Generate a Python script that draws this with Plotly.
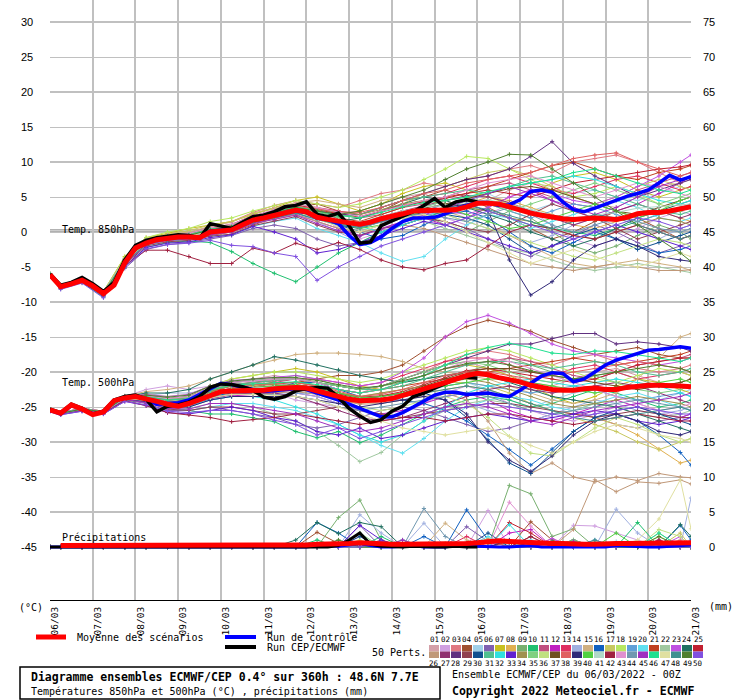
import plotly.graph_objects as go

# ---------------- data ----------------
DATE_LABELS = ["06/03", "07/03", "08/03", "09/03", "10/03", "11/03", "12/03", "13/03",
               "14/03", "15/03", "16/03", "17/03", "18/03", "19/03", "20/03", "21/03"]
DAY_HOURS = [0, 24, 48, 72, 96, 120, 144, 168, 192, 216, 240, 264, 288, 312, 336, 360]
LEFT_TICKS = [-45, -40, -35, -30, -25, -20, -15, -10, -5, 0, 5, 10, 15, 20, 25, 30]
RIGHT_TICKS = [0, 5, 10, 15, 20, 25, 30, 35, 40, 45, 50, 55, 60, 65, 70, 75]

HOURS_6H = [0, 6, 12, 18, 24, 30, 36, 42, 48, 54, 60, 66, 72, 78, 84, 90, 96, 102, 108, 114, 120,
            126, 132, 138, 144, 150, 156, 162, 168, 174, 180, 186, 192, 198, 204, 210, 216, 222,
            228, 234, 240, 246, 252, 258, 264, 270, 276, 282, 288, 294, 300, 306, 312, 318, 324,
            330, 336, 342, 348, 354, 360]
HOURS_CEP = [0, 6, 12, 18, 24, 30, 36, 42, 48, 54, 60, 66, 72, 78, 84, 90, 96, 102, 108, 114, 120,
             126, 132, 138, 144, 150, 156, 162, 168, 174, 180, 186, 192, 198, 204, 210, 216, 222,
             228, 234, 240]
HOURS_PRECIP_MEAN = [6, 12, 18, 24, 30, 36, 42, 48, 54, 60, 66, 72, 78, 84, 90, 96, 102, 108, 114, 120,
                     126, 132, 138, 144, 150, 156, 162, 168, 174, 180, 186, 192, 198, 204, 210, 216, 222,
                     228, 234, 240, 246, 252, 258, 264, 270, 276, 282, 288, 294, 300, 306, 312, 318, 324,
                     330, 336, 342, 348, 354, 360]
PERT_HOURS = [0, 6, 18, 30, 42, 54, 66, 78, 90, 102, 114, 126, 138, 150, 162, 174, 186, 198, 210, 222,
              234, 246, 258, 270, 282, 294, 306, 318, 330, 342, 354, 360]

T850_MEAN = [-6.1, -7.8, -7.4, -6.9, -7.7, -8.8, -7.6, -4.4, -2.3, -1.6, -1.1, -0.9, -0.7, -0.7, -0.8,
             0.0, 0.2, 0.3, 1.0, 1.7, 2.0, 2.4, 2.8, 3.1, 2.9, 2.1, 1.8, 1.5, 1.3, 1.1, 1.4, 1.9, 2.2,
             2.6, 3.0, 3.1, 3.1, 3.1, 3.2, 3.6, 4.1, 4.1, 4.0, 3.6, 3.1, 2.7, 2.4, 2.1, 1.9, 1.8, 1.9,
             2.0, 1.9, 1.8, 2.1, 2.6, 2.8, 2.8, 3.0, 3.3, 3.6]
T850_CTRL = [-6.2, -7.8, -7.3, -6.8, -7.6, -8.7, -7.4, -4.3, -2.2, -1.5, -1.0, -0.8, -0.6, -0.7, -0.8,
             0.1, 0.3, 0.4, 1.1, 1.8, 2.1, 2.5, 2.8, 3.0, 2.8, 2.0, 1.8, 1.2, -0.5, -1.8, -1.5, -0.7,
             0.5, 1.5, 2.0, 2.0, 2.1, 2.6, 3.3, 3.8, 4.2, 4.2, 3.8, 3.9, 4.6, 5.8, 6.0, 5.7, 4.3, 3.2,
             2.9, 3.4, 4.0, 4.6, 5.1, 5.5, 6.0, 7.0, 8.1, 7.4, 7.9]
T850_CEP = [-6.0, -7.6, -7.2, -6.5, -7.4, -8.5, -7.2, -4.0, -1.9, -1.2, -0.8, -0.6, -0.4, -0.5, -0.9,
            1.2, 0.8, 0.5, 1.4, 2.2, 2.4, 2.9, 3.6, 3.8, 4.3, 2.5, 2.2, 2.7, 0.9, -1.6, -1.4, 0.9,
            1.6, 2.2, 2.9, 3.8, 4.8, 3.5, 4.3, 4.6, 4.3]

T500_MEAN = [-25.4, -25.9, -24.7, -25.3, -26.1, -25.7, -24.1, -23.7, -23.5, -23.8, -24.2, -24.6, -24.9,
             -24.5, -23.9, -23.3, -22.8, -22.7, -22.7, -22.6, -22.6, -22.4, -22.3, -22.2, -22.3, -22.7,
             -23.1, -23.5, -23.9, -24.1, -24.1, -24.0, -23.8, -23.4, -22.9, -22.4, -22.0, -21.5, -21.0,
             -20.5, -20.2, -20.4, -20.8, -21.1, -21.4, -21.9, -22.2, -22.5, -22.6, -22.6, -22.4, -22.3,
             -22.5, -22.5, -22.2, -22.0, -21.9, -21.9, -21.9, -22.0, -22.1]
T500_CTRL = [-25.5, -26.0, -24.8, -25.3, -26.1, -25.7, -24.1, -23.6, -23.4, -23.8, -24.6, -24.5, -24.4,
             -24.0, -23.2, -22.3, -21.6, -21.8, -22.2, -22.5, -22.8, -22.7, -22.5, -22.4, -22.5, -23.0,
             -23.4, -24.0, -24.6, -25.2, -25.9, -26.4, -26.4, -25.8, -25.0, -24.2, -23.3, -22.9, -22.9,
             -23.2, -23.1, -23.0, -23.3, -23.5, -22.6, -21.6, -20.6, -20.1, -20.2, -21.4, -21.0, -20.0,
             -19.0, -18.3, -17.8, -17.4, -16.9, -16.8, -16.6, -16.4, -16.6]
T500_CEP = [-25.3, -25.8, -24.6, -25.2, -26.0, -25.6, -24.0, -23.5, -23.3, -23.9, -25.7, -24.9, -24.7,
            -24.3, -23.5, -22.2, -21.7, -21.8, -22.1, -22.6, -23.6, -23.9, -23.5, -22.7, -22.4, -22.2,
            -22.3, -23.6, -25.2, -26.3, -27.2, -26.8, -25.6, -24.9, -23.5, -23.0, -22.3, -21.6, -21.0,
            -20.7, -20.9]

PRECIP_MEAN = [0.2, 0.2, 0.2, 0.2, 0.2, 0.2, 0.2, 0.2, 0.2, 0.2, 0.2, 0.2, 0.2, 0.2, 0.2, 0.2, 0.2, 0.2,
               0.2, 0.2, 0.2, 0.2, 0.3, 0.3, 0.4, 0.4, 0.4, 0.5, 0.6, 0.5, 0.4, 0.4, 0.4, 0.4, 0.4, 0.5,
               0.5, 0.5, 0.5, 0.6, 0.7, 0.9, 0.8, 0.7, 0.6, 0.5, 0.5, 0.5, 0.4, 0.4, 0.4, 0.5, 0.5, 0.5,
               0.5, 0.5, 0.6, 0.6, 0.6, 0.6]
PRECIP_CTRL = [0, 0, 0, 0, 0, 0, 0, 0, 0, 0, 0, 0, 0, 0, 0, 0, 0, 0, 0, 0, 0, 0, 0, 0, 0,
               0.2, 0.3, 0.1, 0.3, 0.5, 0.2,
               0, 0, 0.1, 0.2, 0, 0, 0, 0.2, 0.3, 0.1, 0, 0, 0, 0.1, 0.2, 0, 0, 0, 0.1, 0, 0, 0, 0.2,
               0.1, 0, 0, 0, 0.1, 0.2, 0.3]
PRECIP_CEP = [0, 0, 0, 0, 0, 0, 0, 0, 0, 0, 0, 0, 0, 0, 0, 0, 0, 0, 0, 0, 0, 0, 0, 0, 0, 0, 0,
              0.2, 1.0, 2.0, 0.4, 0.1, 0, 0, 0.1, 0, 0, 0, 0.1, 0, 0]

MEMBER_LABELS = ["01", "02", "03", "04", "05", "06", "07", "08", "09", "10", "11", "12", "13",
                 "14", "15", "16", "17", "18", "19", "20", "21", "22", "23", "24", "25", "26",
                 "27", "28", "29", "30", "31", "32", "33", "34", "35", "36", "37", "38", "39",
                 "40", "41", "42", "43", "44", "45", "46", "47", "48", "49", "50"]
MEMBER_COLORS = ["#d4a0a8", "#d0a0e0", "#e07880", "#a05030", "#a0d0e8", "#8060b0", "#c8c020", "#e0b050",
                 "#78b070", "#20c070", "#c05080", "#c020c0", "#e03060", "#a0b0e0", "#d0b080", "#1060c0",
                 "#c8c860", "#b8e860", "#60a0d8", "#60e0f0", "#c04020", "#a0c8a0", "#c050e0", "#207060",
                 "#c02030", "#c09878", "#903070", "#603080", "#904050", "#105090", "#50c090", "#30e0e0",
                 "#6020d0", "#a09050", "#80d080", "#c0e080", "#705020", "#e06060", "#302878", "#50d040",
                 "#b0d8c8", "#a02040", "#e090d0", "#7098b0", "#a030c0", "#20e090", "#e0e0a0", "#409090",
                 "#508030", "#8050e0"]

T850_MEMBERS = [
    [-6.2, -7.9, -6.8, -8.9, -4.0, -1.2, -0.5, -0.3, 0.5, 1.0, 2.5, 3.5, 4.0, 3.0, 2.5, 3.0, 4.0, 5.0, 5.5, 4.0, 3.0, 4.5, 6.0, 7.0, 6.5, 5.0, 4.0, 3.5, 5.0, 6.5, 7.0, 7.5],
    [-6.0, -7.7, -6.9, -8.7, -4.5, -1.8, -1.0, -0.5, 0.2, 0.8, 1.5, 2.8, 3.5, 2.5, 0.5, -1.0, 0.0, 1.5, 3.0, 2.0, 1.0, 2.5, 4.0, 3.0, 1.0, -1.0, -2.0, -1.0, 0.5, 2.0, 3.0, 2.5],
    [-6.1, -7.8, -6.7, -8.6, -3.8, -1.0, -0.4, -0.2, 0.8, 1.5, 2.8, 3.8, 4.5, 4.0, 3.5, 4.5, 5.5, 6.0, 7.0, 6.5, 7.5, 8.0, 9.0, 9.5, 8.5, 10.0, 10.5, 11.0, 10.0, 8.5, 7.0, 8.0],
    [-6.2, -7.8, -7.0, -8.9, -4.6, -1.7, -1.2, -1.0, -0.5, 0.0, 1.0, 2.0, 3.5, 4.0, 3.0, 2.0, 3.0, 4.5, 5.0, 6.0, 5.0, 3.5, 2.0, 0.5, -1.0, 0.0, 1.5, 3.0, 2.0, 0.5, -1.0, -0.5],
    [-6.1, -7.7, -6.9, -8.8, -4.3, -1.5, -0.8, -0.6, 0.1, 0.5, 1.8, 2.5, 3.0, 2.0, 1.0, 0.5, 1.5, 2.5, 3.5, 4.5, 5.0, 5.5, 4.0, 3.0, 4.0, 5.5, 6.0, 5.0, 4.5, 5.5, 6.5, 6.0],
    [-6.3, -8.0, -7.1, -9.2, -5.2, -2.5, -1.8, -1.5, -1.0, -0.5, 0.5, 1.0, 0.5, -1.0, -2.0, -1.5, 0.0, 1.0, 2.0, 1.5, 0.5, -1.0, -2.5, -3.5, -2.0, -0.5, 1.0, 0.0, -1.5, -3.0, -2.0, -1.5],
    [-6.0, -7.6, -6.6, -8.5, -3.5, -0.8, -0.2, 0.5, 1.0, 1.5, 2.5, 3.5, 4.5, 5.0, 4.0, 3.0, 4.0, 5.5, 6.5, 7.0, 6.0, 5.0, 4.0, 5.5, 7.0, 8.0, 8.5, 7.5, 6.0, 5.0, 6.0, 6.5],
    [-6.2, -7.9, -7.0, -8.9, -4.4, -1.6, -1.0, -0.8, -0.2, 0.2, 1.5, 2.2, 2.8, 2.0, 1.5, 1.0, 2.0, 3.0, 3.5, 3.0, 4.0, 5.0, 4.5, 3.5, 2.5, 1.0, 0.5, 1.5, 2.5, 3.0, 2.0, 1.5],
    [-6.1, -7.8, -6.9, -8.7, -4.2, -1.4, -0.8, -0.5, 0.3, 0.6, 1.8, 2.6, 3.4, 2.5, 1.0, 0.0, 1.0, 2.0, 2.5, 1.0, 0.0, 1.5, 3.0, 2.0, 0.0, -2.0, -3.0, -2.0, -0.5, 1.0, 0.0, -1.0],
    [-6.3, -8.1, -7.2, -9.3, -5.0, -2.2, -1.5, -1.3, -1.5, -2.8, -4.5, -5.9, -7.1, -5.0, -3.0, -1.5, 0.0, 1.0, 2.0, 3.0, 3.5, 3.0, 2.0, 1.0, 0.5, 0.0, -0.5, 0.5, 1.5, 2.5, 3.0, 3.5],
    [-6.0, -7.7, -6.8, -8.7, -4.1, -1.3, -0.6, -0.4, 0.4, 0.9, 2.0, 2.8, 3.8, 3.0, 2.5, 2.0, 2.5, 3.5, 4.0, 5.0, 6.0, 6.5, 7.0, 6.0, 5.0, 4.0, 3.5, 4.5, 6.0, 7.0, 8.0, 8.5],
    [-6.1, -7.8, -6.9, -8.8, -4.4, -1.6, -1.0, -0.9, -0.3, 0.0, 1.2, 2.0, 2.5, 1.5, 0.5, -0.5, 0.5, 1.5, 2.0, 1.0, 2.0, 3.5, 5.0, 6.0, 4.5, 3.0, 2.0, 3.0, 4.0, 5.5, 7.0, 8.0],
    [-6.2, -7.9, -6.9, -8.8, -4.3, -1.4, -0.7, -0.5, 0.4, 0.8, 2.0, 3.0, 3.8, 3.5, 3.0, 2.5, 3.5, 4.5, 5.0, 5.5, 6.5, 7.5, 8.0, 7.0, 6.0, 5.5, 6.5, 7.5, 8.0, 7.0, 6.0, 6.5],
    [-6.0, -7.7, -6.9, -8.7, -4.2, -1.5, -0.9, -0.6, 0.0, 0.4, 1.6, 2.3, 2.8, 1.5, 0.0, -1.5, -0.5, 1.0, 2.0, 2.5, 1.5, 0.5, -0.5, -1.5, -0.5, 1.0, 2.0, 1.0, 0.0, -1.0, 0.5, 1.0],
    [-6.1, -7.8, -6.8, -8.6, -3.9, -1.1, -0.4, 0.0, 0.8, 1.4, 2.7, 3.5, 4.2, 4.5, 4.0, 3.5, 4.5, 5.0, 4.0, 3.0, 2.0, 1.0, -0.5, -2.0, -3.5, -4.5, -5.0, -4.5, -4.0, -4.5, -5.0, -5.5],
    [-6.2, -7.9, -7.0, -8.9, -4.5, -1.7, -1.1, -0.8, -0.2, 0.2, 1.3, 2.0, 2.7, 1.8, 1.0, 0.0, -1.0, -0.5, 1.0, 2.5, 3.0, 2.0, 0.0, -2.0, -3.0, -1.5, 0.0, -1.0, -2.0, -3.0, -2.5, -2.0],
    [-6.0, -7.6, -6.7, -8.6, -3.9, -1.0, -0.3, 0.2, 1.0, 1.5, 2.6, 3.3, 4.0, 3.5, 2.5, 2.0, 3.0, 4.0, 5.5, 6.5, 7.5, 8.5, 9.0, 8.0, 6.5, 5.0, 4.0, 5.0, 6.5, 7.5, 6.5, 6.0],
    [-6.0, -7.6, -6.6, -8.5, -3.6, -0.8, 0.0, 0.5, 1.5, 2.0, 3.0, 3.8, 4.5, 4.0, 3.5, 4.0, 5.0, 6.0, 7.5, 9.0, 10.8, 10.5, 9.0, 7.5, 6.0, 5.0, 5.5, 6.5, 5.5, 4.0, 3.0, 3.5],
    [-6.1, -7.8, -6.9, -8.8, -4.4, -1.6, -0.9, -0.7, 0.0, 0.3, 1.7, 2.5, 3.2, 2.3, 1.5, 1.0, 2.0, 2.5, 3.0, 4.0, 4.5, 4.0, 3.0, 2.0, 3.0, 4.0, 3.5, 2.5, 1.5, 2.5, 3.5, 4.0],
    [-6.2, -7.9, -7.0, -8.9, -4.6, -1.9, -1.3, -1.1, -0.6, -0.4, 0.8, 1.5, 2.0, 0.5, -0.5, -1.5, -3.0, -4.2, -3.5, -1.0, 1.0, 2.5, 2.0, 0.5, 1.5, 2.5, 3.5, 4.5, 3.5, 2.0, 1.5, 2.0],
    [-6.1, -7.8, -6.8, -8.7, -4.1, -1.3, -0.7, -0.4, 0.5, 0.9, 2.1, 2.9, 3.6, 3.0, 2.0, 1.5, 2.5, 3.5, 4.5, 5.0, 5.5, 6.5, 7.5, 8.5, 9.5, 10.0, 9.0, 8.0, 7.5, 8.5, 9.0, 9.5],
    [-6.0, -7.7, -6.9, -8.7, -4.3, -1.5, -0.8, -0.6, 0.2, 0.5, 1.8, 2.5, 3.0, 2.0, 1.0, 0.5, 1.5, 2.0, 1.5, 0.5, -0.5, -1.5, -2.5, -3.0, -4.0, -5.0, -5.5, -5.0, -4.5, -5.0, -5.5, -5.8],
    [-6.2, -7.9, -7.0, -8.9, -4.5, -1.7, -1.0, -0.8, -0.1, 0.2, 1.5, 2.2, 2.9, 2.0, 1.5, 1.0, 2.0, 3.0, 3.5, 3.0, 2.5, 3.5, 5.0, 6.0, 5.5, 4.5, 4.0, 5.0, 6.5, 8.0, 10.0, 11.0],
    [-6.1, -7.8, -6.9, -8.8, -4.2, -1.4, -0.8, -0.5, 0.3, 0.7, 2.0, 3.0, 3.5, 2.5, 1.5, 2.0, 3.0, 4.0, 5.0, 4.5, 3.5, 2.5, 1.5, 0.0, -1.0, -2.0, -1.0, 0.5, 2.0, 3.0, 4.0, 4.5],
    [-6.0, -7.7, -6.8, -8.7, -4.0, -1.2, -0.5, -0.3, 0.6, 1.1, 2.3, 3.1, 3.9, 3.2, 2.6, 2.2, 3.0, 3.8, 4.3, 4.8, 5.5, 6.0, 5.5, 5.0, 6.0, 7.0, 7.5, 8.0, 8.5, 9.0, 9.3, 9.6],
    [-6.2, -7.9, -7.0, -8.9, -4.6, -1.8, -1.2, -1.0, -0.4, 0.0, 1.2, 1.9, 2.5, 1.5, 0.5, 0.0, 0.5, 1.0, 0.5, -0.5, -1.5, -2.5, -3.5, -4.5, -5.0, -5.5, -5.0, -4.5, -5.0, -5.5, -5.5, -5.4],
    [-6.1, -7.8, -6.9, -8.8, -4.3, -1.5, -0.9, -0.7, 0.0, 0.4, 1.7, 2.4, 3.2, 2.6, 2.0, 1.2, 2.2, 3.0, 3.8, 4.5, 5.2, 5.0, 4.2, 3.0, 2.0, 1.0, 2.0, 3.0, 4.0, 3.0, 2.0, 2.5],
    [-6.0, -7.7, -6.8, -8.7, -4.0, -1.2, -0.6, -0.3, 0.5, 1.0, 2.2, 3.0, 3.7, 3.0, 2.5, 2.5, 3.5, 4.5, 5.5, 6.5, 7.5, 8.0, 9.0, 10.8, 12.9, 9.8, 8.0, 6.5, 5.0, 6.0, 7.0, 7.5],
    [-6.2, -7.9, -7.1, -9.0, -4.7, -2.0, -1.4, -1.2, -0.6, -0.3, 0.9, 1.6, 2.2, 1.0, 0.0, -0.5, 0.5, 1.0, 2.0, 1.5, 0.5, 0.0, 1.0, 2.5, 4.0, 3.0, 2.0, 0.5, -1.0, 0.0, 1.0, 1.5],
    [-6.1, -7.8, -6.9, -8.8, -4.4, -1.6, -1.0, -0.8, -0.1, 0.3, 1.6, 2.3, 3.0, 2.0, 1.0, 0.5, 1.5, 2.5, 3.0, 2.5, 2.0, 1.0, -1.0, -3.0, -2.0, -0.5, 0.5, -1.0, -2.5, -1.5, -0.5, 0.0],
    [-6.0, -7.7, -6.8, -8.7, -4.2, -1.4, -0.7, -0.4, 0.4, 0.8, 2.0, 2.8, 3.5, 2.8, 2.2, 2.5, 3.5, 4.5, 5.0, 5.5, 6.0, 5.5, 6.5, 7.5, 8.0, 7.0, 6.0, 5.0, 4.0, 3.0, 2.5, 3.0],
    [-6.1, -7.8, -6.9, -8.8, -4.3, -1.5, -0.8, -0.6, 0.2, 0.6, 1.8, 2.6, 3.3, 2.4, 1.6, 0.8, 0.0, 1.0, 2.0, 3.5, 4.5, 5.5, 6.5, 7.0, 7.5, 8.0, 7.5, 6.5, 5.5, 4.5, 4.0, 4.5],
    [-6.2, -8.0, -7.1, -9.1, -4.9, -2.2, -1.6, -1.4, -0.8, -0.4, 0.8, 0.0, -1.0, -3.0, -2.5, -1.5, -0.5, 0.5, 1.5, 1.0, 0.0, -1.0, -2.0, -3.0, -2.0, -1.0, 0.0, 1.0, 0.0, -1.0, -2.0, -2.5],
    [-6.1, -7.8, -6.9, -8.7, -4.1, -1.3, -0.6, -0.3, 0.5, 0.9, 2.1, 2.9, 3.6, 3.2, 2.8, 2.5, 3.2, 4.0, 4.5, 4.0, 3.5, 3.0, 2.0, 1.5, 0.5, -0.5, -1.0, 0.0, 1.0, 2.0, 1.5, 1.0],
    [-6.0, -7.7, -6.8, -8.6, -3.9, -1.1, -0.5, -0.2, 0.6, 1.0, 2.2, 3.0, 3.8, 3.0, 2.0, 1.0, 1.5, 2.5, 3.5, 4.5, 5.0, 4.0, 3.0, 4.0, 5.0, 6.0, 7.0, 6.0, 5.0, 4.0, 5.0, 5.5],
    [-6.1, -7.8, -6.9, -8.8, -4.3, -1.5, -0.8, -0.6, 0.1, 0.5, 1.7, 2.5, 3.1, 2.2, 1.6, 1.2, 2.0, 2.8, 3.2, 2.5, 1.5, 0.5, -0.5, -1.5, -2.5, -3.5, -4.0, -3.0, -2.0, -1.0, -1.5, -2.0],
    [-6.2, -7.9, -7.0, -8.9, -4.5, -1.7, -1.1, -0.9, -0.2, 0.1, 1.4, 2.1, 2.8, 2.0, 1.4, 1.0, 1.8, 2.6, 3.4, 4.0, 4.8, 5.5, 6.2, 6.5, 6.0, 5.0, 4.0, 3.0, 2.5, 3.5, 4.5, 5.0],
    [-6.0, -7.7, -6.8, -8.7, -4.1, -1.3, -0.6, -0.4, 0.5, 0.9, 2.1, 2.9, 3.7, 3.3, 2.9, 2.8, 3.5, 4.5, 5.5, 6.0, 7.0, 7.5, 8.0, 8.5, 9.5, 10.5, 11.0, 11.3, 10.0, 9.0, 8.0, 8.5],
    [-6.1, -7.8, -6.9, -8.8, -4.4, -1.6, -1.0, -0.7, 0.0, 0.3, 1.6, 2.4, 3.0, 2.2, 1.4, 0.8, 1.5, 2.2, 2.8, 3.5, 4.0, 3.0, -4.0, -9.0, -7.1, -4.0, -2.0, -1.0, -2.0, -3.5, -4.0, -4.2],
    [-6.2, -7.9, -7.0, -8.9, -4.5, -1.7, -1.1, -0.8, -0.1, 0.2, 1.5, 2.2, 2.9, 2.0, 1.2, 0.5, 1.0, 2.0, 3.0, 3.5, 2.5, 1.5, 0.5, 1.0, 2.0, 3.0, 4.0, 3.0, 2.0, 3.0, 4.5, 5.0],
    [-6.1, -7.8, -6.9, -8.8, -4.3, -1.5, -0.9, -0.6, 0.1, 0.4, 1.7, 2.4, 3.1, 2.3, 1.7, 1.4, 2.2, 3.0, 3.6, 3.8, 4.2, 4.6, 4.0, 3.2, 2.4, 2.0, 2.4, 2.8, 3.4, 3.6, 3.8, 4.0],
    [-6.3, -8.0, -7.2, -9.1, -4.8, -2.6, -2.6, -3.5, -4.5, -4.5, -2.3, -3.0, -1.6, -2.5, -1.5, -2.5, -4.0, -5.0, -5.4, -4.5, -4.0, -2.0, 0.0, 1.0, 0.5, -0.5, -1.0, 0.0, 1.0, 0.0, -1.0, -0.5],
    [-6.0, -7.7, -6.8, -8.6, -3.9, -1.2, -0.5, -0.2, 0.6, 1.1, 2.3, 3.2, 4.0, 3.5, 2.8, 2.2, 3.0, 3.8, 4.5, 5.0, 6.0, 7.0, 7.5, 8.0, 7.0, 6.0, 5.0, 6.0, 7.0, 6.5, 5.5, 5.0],
    [-6.1, -7.8, -6.9, -8.8, -4.4, -1.6, -1.0, -0.7, 0.0, 0.3, 1.6, 2.3, 3.0, 2.0, 1.2, 0.6, 1.4, 2.2, 2.6, 2.0, 1.5, 2.5, 3.5, 2.5, 1.0, 0.0, 1.0, 2.0, 1.5, 0.5, 0.0, 0.5],
    [-6.2, -7.9, -7.0, -8.9, -4.6, -1.8, -1.2, -1.0, -0.4, 0.0, 1.2, 1.8, 2.4, 1.2, 0.2, -0.6, 0.4, 1.5, 2.5, 3.5, 4.5, 5.5, 6.5, 5.5, 4.5, 3.5, 2.5, 3.5, 5.0, 6.5, 7.5, 8.0],
    [-6.0, -7.7, -6.8, -8.7, -4.1, -1.3, -0.6, -0.4, 0.4, 0.8, 2.0, 2.8, 3.6, 3.0, 2.4, 2.0, 2.8, 3.6, 4.2, 4.5, 5.0, 5.8, 6.5, 7.0, 7.5, 8.5, 9.0, 8.0, 7.0, 6.0, 5.5, 6.0],
    [-6.1, -7.8, -6.9, -8.8, -4.4, -1.6, -0.9, -0.6, 0.1, 0.4, 1.6, 2.3, 2.9, 1.8, 0.8, 0.0, 1.0, 2.0, 2.5, 1.5, 0.0, -1.5, -3.0, -4.5, -3.5, -2.5, -3.5, -4.5, -5.0, -4.0, -3.0, -3.5],
    [-6.2, -7.9, -7.0, -8.9, -4.5, -1.7, -1.1, -0.9, -0.2, 0.2, 1.4, 2.1, 2.7, 1.8, 1.1, 0.7, 1.6, 2.4, 3.0, 3.4, 3.8, 3.2, 2.4, 1.5, 0.5, 1.5, 2.5, 2.0, 1.0, 0.0, -1.0, -0.5],
    [-6.1, -7.8, -6.9, -8.8, -4.2, -1.4, -0.7, -0.5, 0.3, 0.7, 1.9, 2.7, 3.5, 3.0, 2.5, 3.0, 4.0, 5.0, 6.0, 7.5, 9.0, 10.0, 11.1, 11.0, 9.0, 7.0, 5.0, 3.0, 1.0, -1.0, -3.0, -4.2],
    [-6.4, -8.2, -7.3, -9.4, -5.0, -2.4, -1.8, -1.6, -1.2, -1.9, -2.1, -3.0, -3.5, -6.9, -5.0, -3.5, -2.0, -1.0, 0.0, 1.0, 2.0, 3.0, 2.0, 1.0, 0.0, -1.0, 0.0, 1.0, 2.0, 1.5, 0.5, 1.0],
]

T500_MEMBERS = [
    [-25.5, -26.0, -25.2, -25.8, -23.6, -23.5, -24.0, -23.8, -22.5, -21.5, -21.0, -20.5, -21.0, -22.0, -22.5, -23.0, -22.0, -21.0, -20.0, -19.0, -18.5, -19.5, -20.5, -21.5, -22.0, -21.0, -20.0, -19.5, -20.5, -21.5, -22.0, -22.5],
    [-25.3, -25.8, -25.2, -25.6, -23.5, -22.5, -22.0, -22.5, -22.0, -21.5, -22.0, -23.0, -24.0, -24.5, -25.0, -26.0, -27.0, -26.0, -24.5, -23.0, -22.0, -23.0, -24.5, -25.5, -26.5, -27.0, -26.0, -25.0, -24.5, -25.5, -26.5, -27.0],
    [-25.4, -25.9, -25.3, -25.7, -23.5, -23.2, -23.8, -23.6, -22.6, -21.8, -21.5, -21.3, -21.0, -21.5, -22.0, -22.5, -22.0, -21.0, -20.0, -18.5, -17.5, -17.0, -17.5, -18.5, -19.0, -18.0, -17.5, -18.5, -19.5, -20.0, -19.5, -19.0],
    [-25.4, -25.9, -25.3, -25.7, -23.7, -23.8, -24.4, -24.2, -23.0, -22.3, -22.0, -21.8, -21.5, -21.0, -20.5, -20.5, -20.0, -19.0, -17.0, -15.0, -13.5, -12.6, -13.3, -14.2, -15.5, -16.5, -17.5, -17.0, -16.5, -17.5, -18.0, -18.0],
    [-25.4, -25.9, -25.3, -25.7, -23.8, -24.0, -24.8, -24.6, -23.4, -22.8, -22.5, -22.0, -21.5, -22.0, -23.0, -24.0, -24.5, -24.0, -23.0, -22.0, -21.5, -22.5, -24.0, -25.0, -24.0, -23.0, -22.5, -23.5, -24.5, -24.0, -23.0, -22.5],
    [-25.5, -26.0, -25.5, -25.9, -24.0, -24.5, -25.5, -25.5, -25.0, -25.5, -26.0, -26.5, -27.5, -28.0, -27.5, -26.5, -25.5, -25.0, -25.5, -26.5, -27.5, -28.5, -28.0, -27.0, -26.0, -25.5, -26.5, -27.5, -28.0, -27.0, -26.5, -26.0],
    [-25.3, -25.8, -25.2, -25.6, -23.5, -23.3, -23.8, -23.5, -22.0, -21.0, -20.5, -20.0, -19.5, -20.0, -21.0, -22.0, -22.5, -21.5, -20.5, -19.5, -19.0, -19.5, -20.5, -22.0, -23.5, -24.5, -23.5, -22.0, -21.0, -21.5, -22.5, -23.0],
    [-25.4, -25.9, -25.3, -25.7, -23.7, -23.9, -24.7, -24.6, -23.5, -23.0, -23.0, -23.0, -22.5, -23.0, -24.0, -24.5, -24.0, -23.5, -23.0, -22.5, -22.0, -22.5, -23.5, -24.5, -25.5, -26.0, -26.5, -27.5, -29.0, -31.0, -33.0, -32.6],
    [-25.4, -25.9, -25.3, -25.7, -23.7, -23.6, -24.2, -24.0, -22.8, -22.0, -21.5, -21.0, -20.5, -21.0, -22.0, -22.5, -22.0, -21.5, -21.0, -20.5, -20.0, -19.0, -18.0, -19.0, -20.0, -21.0, -20.5, -20.0, -21.0, -22.0, -21.5, -21.0],
    [-25.5, -26.0, -25.5, -25.9, -24.0, -24.3, -25.0, -25.5, -26.0, -26.0, -26.5, -27.1, -28.5, -29.4, -28.5, -30.1, -29.0, -27.5, -26.0, -25.0, -24.0, -23.5, -24.0, -25.0, -24.5, -23.5, -22.5, -23.0, -24.0, -25.0, -24.5, -24.0],
    [-25.3, -25.8, -25.2, -25.6, -23.6, -23.6, -24.3, -24.2, -23.0, -22.3, -22.0, -21.5, -21.0, -21.5, -22.5, -23.0, -22.5, -21.5, -20.5, -19.5, -19.0, -18.5, -18.0, -18.5, -19.5, -20.5, -21.0, -20.0, -19.0, -18.5, -18.0, -17.5],
    [-25.4, -25.9, -25.3, -25.7, -23.8, -24.0, -24.8, -24.8, -23.8, -23.3, -23.5, -23.5, -23.0, -23.5, -24.5, -25.5, -26.0, -25.5, -24.5, -23.5, -23.0, -24.0, -25.5, -26.5, -27.0, -26.0, -25.0, -24.0, -25.0, -26.0, -26.5, -26.0],
    [-25.4, -25.9, -25.3, -25.7, -23.6, -23.5, -24.0, -23.8, -22.5, -21.8, -21.5, -21.3, -21.0, -21.0, -21.5, -22.0, -21.5, -20.5, -19.5, -18.5, -18.0, -18.0, -19.0, -20.0, -20.5, -19.5, -19.0, -20.0, -21.0, -20.5, -20.0, -20.5],
    [-25.4, -25.9, -25.3, -25.7, -23.7, -23.4, -23.0, -23.0, -22.5, -22.0, -22.5, -23.0, -23.0, -23.5, -24.5, -25.5, -26.5, -27.0, -26.0, -25.0, -24.5, -25.5, -26.5, -27.0, -26.0, -25.0, -24.0, -24.5, -25.5, -26.0, -25.5, -25.0],
    [-25.3, -25.8, -25.2, -25.6, -23.4, -22.8, -22.5, -22.0, -21.0, -20.0, -19.0, -18.3, -17.5, -17.3, -17.3, -17.5, -17.8, -18.5, -19.5, -20.0, -20.5, -21.0, -22.0, -23.0, -24.0, -24.5, -24.0, -23.0, -21.0, -18.0, -15.0, -14.5],
    [-25.4, -25.9, -25.3, -25.7, -23.8, -24.0, -24.7, -24.5, -23.5, -23.0, -23.0, -22.5, -21.5, -21.5, -22.5, -23.5, -24.0, -24.0, -24.5, -25.5, -27.0, -29.0, -31.1, -33.3, -31.0, -28.5, -26.5, -26.0, -27.0, -29.0, -31.5, -33.3],
    [-25.4, -25.9, -25.3, -25.7, -23.7, -23.8, -24.5, -24.3, -23.2, -22.5, -22.0, -21.5, -21.5, -22.0, -23.0, -23.5, -23.0, -22.5, -22.0, -21.5, -21.5, -22.0, -23.0, -24.5, -25.5, -26.5, -27.5, -28.5, -30.0, -31.1, -30.0, -29.5],
    [-25.3, -25.8, -25.2, -25.6, -23.5, -23.2, -23.5, -23.2, -22.0, -21.0, -20.5, -20.0, -20.0, -20.5, -21.0, -21.5, -21.0, -20.0, -19.0, -18.0, -17.0, -16.5, -17.0, -18.0, -19.0, -20.0, -21.0, -21.5, -20.5, -19.5, -20.0, -20.5],
    [-25.4, -25.9, -25.3, -25.7, -23.8, -24.2, -25.0, -25.0, -24.0, -23.5, -23.5, -23.5, -23.0, -23.0, -23.5, -24.0, -23.5, -23.0, -22.5, -22.0, -21.5, -22.0, -22.5, -23.0, -22.5, -22.0, -22.5, -23.5, -24.0, -23.5, -23.0, -23.5],
    [-25.5, -26.0, -25.4, -25.8, -23.9, -24.3, -25.2, -25.5, -25.0, -24.5, -24.5, -25.0, -25.5, -26.5, -27.5, -29.0, -30.5, -31.6, -29.5, -27.0, -25.0, -24.0, -23.5, -24.0, -25.0, -25.5, -24.5, -23.5, -23.0, -24.0, -25.0, -25.5],
    [-25.4, -25.9, -25.3, -25.7, -23.6, -23.5, -24.0, -23.8, -22.8, -22.0, -21.8, -21.5, -21.5, -22.0, -22.5, -23.0, -22.5, -22.0, -21.5, -21.0, -20.5, -20.0, -19.5, -19.0, -18.5, -18.0, -18.5, -19.0, -18.5, -18.0, -17.5, -17.0],
    [-25.5, -26.0, -25.4, -25.8, -23.9, -24.2, -25.0, -25.2, -24.5, -24.5, -25.0, -26.0, -27.0, -28.5, -30.5, -32.8, -31.5, -29.0, -27.0, -25.5, -24.5, -24.0, -24.5, -25.5, -26.0, -25.5, -24.5, -25.0, -26.0, -26.5, -26.0, -25.5],
    [-25.3, -25.8, -25.2, -25.6, -23.5, -23.2, -23.5, -23.2, -22.0, -21.2, -21.0, -20.8, -20.5, -21.0, -21.5, -22.0, -21.5, -20.0, -18.0, -15.0, -12.8, -11.9, -13.0, -14.5, -16.0, -17.0, -17.5, -18.0, -18.5, -19.0, -18.5, -18.0],
    [-25.4, -25.9, -25.3, -25.7, -23.5, -23.0, -23.0, -22.5, -21.0, -20.0, -19.0, -17.8, -18.3, -19.0, -19.7, -20.5, -21.0, -21.5, -21.0, -20.5, -20.0, -20.5, -21.5, -22.5, -23.5, -24.0, -24.5, -25.0, -26.0, -27.0, -28.0, -28.5],
    [-25.4, -25.9, -25.3, -25.7, -23.7, -23.7, -24.4, -24.3, -23.0, -22.4, -22.2, -22.0, -21.8, -22.2, -23.0, -23.6, -23.4, -22.8, -21.8, -20.8, -19.8, -19.5, -20.0, -20.5, -21.0, -21.5, -21.0, -20.0, -19.0, -18.5, -18.0, -18.0],
    [-25.4, -25.9, -25.3, -25.7, -23.8, -24.0, -24.6, -24.6, -23.6, -23.2, -23.2, -23.0, -22.8, -23.2, -24.0, -24.6, -24.5, -24.0, -23.5, -23.0, -24.0, -27.0, -31.6, -34.5, -33.0, -35.0, -35.7, -35.0, -35.5, -34.5, -35.0, -35.1],
    [-25.4, -25.9, -25.3, -25.7, -23.7, -23.9, -24.8, -24.8, -23.8, -23.2, -23.0, -23.0, -23.5, -24.5, -25.5, -26.5, -27.0, -26.5, -25.5, -24.5, -23.5, -22.5, -22.0, -22.5, -23.0, -22.5, -22.0, -21.5, -22.0, -23.0, -24.0, -24.5],
    [-25.4, -25.9, -25.3, -25.7, -23.6, -23.4, -23.8, -23.5, -22.3, -21.5, -21.2, -21.0, -21.0, -21.5, -22.0, -22.5, -22.0, -21.0, -20.0, -19.0, -18.0, -17.0, -16.0, -16.0, -15.2, -14.5, -14.5, -16.0, -15.7, -16.0, -16.5, -17.0],
    [-25.5, -26.0, -25.4, -25.8, -23.9, -24.3, -25.3, -25.5, -25.0, -25.0, -25.5, -26.0, -26.0, -25.5, -25.0, -25.5, -26.0, -26.5, -26.0, -25.5, -25.0, -24.5, -24.5, -25.0, -25.5, -26.0, -26.5, -26.0, -25.5, -26.0, -26.5, -26.5],
    [-25.4, -25.9, -25.3, -25.7, -23.7, -23.8, -24.5, -24.4, -23.3, -22.8, -22.7, -22.5, -22.3, -22.8, -23.5, -24.0, -24.0, -23.5, -23.0, -24.0, -26.5, -29.7, -33.0, -34.5, -31.5, -28.5, -26.5, -25.5, -25.0, -26.0, -27.0, -27.5],
    [-25.4, -25.9, -25.3, -25.7, -23.6, -23.5, -24.0, -23.8, -22.5, -21.8, -21.5, -21.2, -21.0, -21.5, -22.0, -22.5, -22.5, -22.0, -21.0, -20.0, -19.0, -18.5, -18.5, -19.0, -19.5, -19.0, -18.5, -19.0, -20.0, -20.5, -20.0, -19.5],
    [-25.4, -25.9, -25.3, -25.7, -23.8, -24.0, -24.7, -24.8, -24.0, -23.5, -23.5, -24.0, -25.0, -26.0, -27.5, -29.0, -30.0, -29.0, -27.0, -25.0, -23.0, -22.0, -21.5, -21.0, -21.5, -22.0, -21.5, -21.0, -21.5, -22.0, -23.0, -23.5],
    [-25.6, -26.1, -25.6, -26.0, -24.2, -24.8, -25.8, -26.0, -25.5, -25.0, -25.5, -26.5, -27.0, -28.5, -29.0, -28.0, -29.5, -29.0, -28.0, -27.0, -26.5, -26.0, -26.5, -27.0, -26.5, -26.0, -25.5, -26.0, -27.0, -27.5, -27.0, -26.5],
    [-25.4, -25.9, -25.3, -25.7, -23.7, -23.7, -24.3, -24.0, -22.8, -22.0, -21.8, -21.8, -22.0, -22.5, -23.0, -23.5, -23.0, -22.5, -22.0, -21.5, -21.0, -21.5, -22.5, -23.5, -24.5, -25.0, -24.5, -24.0, -23.5, -24.0, -24.5, -25.0],
    [-25.4, -25.9, -25.3, -25.7, -23.6, -23.4, -23.8, -23.6, -22.4, -21.6, -21.2, -21.0, -21.0, -21.5, -22.0, -22.5, -22.0, -21.0, -20.0, -19.0, -18.5, -19.0, -20.0, -21.0, -21.5, -21.0, -20.5, -21.5, -22.5, -23.0, -22.5, -22.0],
    [-25.4, -25.9, -25.3, -25.7, -23.8, -24.0, -24.6, -24.5, -23.4, -22.8, -22.8, -22.6, -22.4, -23.0, -24.0, -25.0, -25.5, -25.0, -24.0, -23.5, -24.5, -26.5, -29.2, -31.6, -32.0, -30.0, -28.0, -26.5, -27.5, -29.0, -30.0, -29.5],
    [-25.4, -25.9, -25.3, -25.7, -23.7, -23.8, -24.5, -24.4, -23.2, -22.6, -22.4, -22.2, -22.0, -22.5, -23.2, -23.8, -23.5, -23.0, -22.0, -21.0, -20.0, -19.5, -19.5, -20.0, -20.5, -21.0, -21.5, -22.0, -22.5, -22.0, -21.5, -21.0],
    [-25.4, -25.9, -25.3, -25.7, -23.6, -23.5, -24.0, -23.8, -22.6, -21.9, -21.8, -21.6, -21.5, -22.0, -22.8, -23.5, -23.2, -22.5, -21.5, -20.5, -20.0, -20.0, -20.5, -21.0, -20.5, -20.0, -19.5, -19.0, -18.5, -19.0, -19.5, -20.0],
    [-25.5, -26.0, -25.4, -25.8, -23.9, -24.2, -25.0, -25.0, -24.0, -23.5, -23.5, -23.5, -23.5, -24.0, -24.5, -25.0, -24.5, -24.0, -23.5, -24.0, -26.0, -30.0, -32.6, -34.2, -32.0, -29.0, -27.0, -26.0, -27.0, -28.5, -29.0, -28.5],
    [-25.4, -25.9, -25.3, -25.7, -23.7, -23.8, -24.5, -24.3, -23.0, -22.4, -22.2, -22.0, -21.8, -22.3, -23.0, -23.7, -23.5, -23.0, -22.5, -22.0, -21.5, -21.0, -21.0, -21.5, -22.0, -22.5, -23.0, -22.5, -22.0, -21.5, -21.0, -21.5],
    [-25.4, -25.9, -25.3, -25.7, -23.7, -23.7, -24.4, -24.3, -23.1, -22.5, -22.3, -22.1, -22.0, -22.5, -23.3, -23.9, -23.8, -23.2, -22.3, -21.4, -20.6, -20.5, -21.0, -21.8, -22.4, -22.6, -22.3, -22.4, -22.0, -21.8, -21.9, -22.0],
    [-25.5, -26.0, -25.5, -25.9, -24.1, -24.8, -25.8, -26.1, -26.5, -27.1, -26.8, -26.5, -26.0, -26.5, -27.0, -27.5, -27.0, -26.5, -26.5, -27.0, -26.5, -26.0, -26.0, -26.5, -27.0, -27.5, -27.0, -26.5, -26.0, -26.5, -27.0, -27.0],
    [-25.4, -25.9, -25.3, -25.7, -23.6, -23.4, -23.8, -23.5, -22.3, -21.5, -21.3, -21.0, -21.0, -21.5, -22.5, -23.0, -22.5, -21.5, -20.5, -19.5, -18.5, -18.0, -18.5, -19.5, -20.5, -21.5, -22.5, -23.5, -24.5, -25.5, -25.0, -24.5],
    [-25.4, -25.9, -25.3, -25.7, -23.8, -24.1, -24.9, -24.8, -23.7, -23.2, -23.2, -23.2, -23.5, -24.0, -25.0, -25.5, -25.0, -24.5, -24.0, -23.5, -23.0, -23.5, -24.5, -25.5, -26.0, -25.5, -25.0, -24.5, -24.0, -24.5, -25.0, -25.5],
    [-25.5, -26.0, -25.4, -25.8, -23.9, -24.4, -25.2, -25.3, -24.5, -24.5, -25.0, -25.5, -26.0, -27.0, -28.0, -28.5, -28.0, -27.0, -26.0, -25.0, -24.5, -25.0, -26.0, -27.0, -27.5, -26.5, -25.5, -25.0, -24.5, -24.0, -23.5, -23.0],
    [-25.4, -25.9, -25.3, -25.7, -23.6, -23.5, -24.0, -23.8, -22.6, -21.9, -21.7, -21.5, -21.4, -21.8, -22.5, -23.0, -22.5, -21.5, -20.5, -19.0, -17.5, -16.5, -15.9, -16.5, -17.3, -17.5, -17.0, -17.1, -17.5, -18.0, -18.5, -18.0],
    [-25.4, -25.9, -25.3, -25.7, -23.8, -24.0, -24.7, -24.7, -23.7, -23.2, -23.2, -23.3, -23.5, -24.0, -25.0, -26.0, -27.0, -28.0, -28.5, -29.0, -28.5, -28.0, -29.2, -30.5, -31.6, -30.0, -28.5, -27.5, -28.0, -29.0, -29.5, -30.0],
    [-25.4, -25.9, -25.3, -25.7, -23.7, -23.8, -24.5, -24.4, -23.2, -22.7, -22.6, -22.4, -22.2, -22.7, -23.4, -24.0, -24.0, -23.5, -23.0, -22.5, -22.0, -22.5, -23.5, -24.5, -25.5, -26.5, -27.0, -26.5, -26.0, -25.5, -25.0, -25.5],
    [-25.4, -25.9, -25.3, -25.7, -23.6, -23.3, -23.6, -23.3, -22.0, -21.3, -21.0, -20.8, -20.8, -21.2, -21.8, -22.3, -22.0, -21.3, -20.5, -19.5, -18.8, -18.5, -19.0, -19.8, -20.5, -21.0, -20.5, -20.0, -19.5, -19.0, -19.5, -20.0],
    [-25.6, -26.1, -25.6, -26.0, -24.2, -24.7, -25.6, -25.8, -25.5, -25.5, -26.0, -26.9, -27.5, -29.0, -28.0, -29.5, -28.5, -27.5, -26.5, -25.5, -25.0, -24.5, -25.0, -25.5, -26.0, -26.5, -26.0, -25.5, -25.0, -25.5, -26.0, -26.0],
]

PRECIP_MEMBERS = [
    [0, 0, 0, 0, 0, 0, 0, 0, 0, 0, 0, 0, 0, 0, 0, 0.5, 0, 0, 0, 0, 0, 0, 1.0, 0, 0, 0, 0, 0, 0.5, 0, 0, 0],
    [0, 0, 0, 0, 0, 0, 0, 0, 0, 0, 0, 0, 0, 0, 0, 1.5, 0, 0, 0, 0, 0, 5.2, 0, 0, 0, 3.1, 3.0, 2.0, 1.0, 0, 0, 0],
    [0, 0, 0, 0, 0, 0, 0, 0, 0, 0, 0, 0, 0, 0, 0, 0, 0.8, 0, 0, 0, 0, 0, 0, 0, 1.2, 0, 0, 0, 0, 0, 1.0, 0],
    [0, 0, 0, 0, 0, 0, 0, 0, 0, 0, 0, 0, 0, 2.1, 0.5, 0, 0, 0, 0, 0, 0, 0, 0, 3.6, 1.0, 0, 0, 0, 0, 0, 0, 0],
    [0, 0, 0, 0, 0, 0, 0, 0, 0, 0, 0, 0, 0, 0, 0, 0, 0, 0, 0, 0.5, 0, 0, 0, 0, 0, 0, 0, 0.8, 0, 0, 0, 0],
    [0, 0, 0, 0, 0, 0, 0, 0, 0, 0, 0, 0, 0, 0, 0, 3.1, 0, 0, 0, 0, 2.9, 0.8, 0, 0, 0, 0, 0, 0, 0, 0, 0, 0],
    [0, 0, 0, 0, 0, 0, 0, 0, 0, 0, 0, 0, 0, 0, 0.5, 0, 0, 0, 0, 0, 0, 0, 0, 0, 0, 1.0, 0, 0, 0, 0, 0, 0],
    [0, 0, 0, 0, 0, 0, 0, 0, 0, 0, 0, 0, 0, 0, 0, 0, 0, 0, 0, 0, 0, 0, 0.6, 0, 0, 0, 0, 0, 0, 0, 0.5, 0],
    [0, 0, 0, 0, 0, 0, 0, 0, 0, 0, 0, 0, 0, 0, 4.2, 6.7, 1.0, 0, 0, 0, 0, 0, 8.8, 7.6, 1.5, 2.6, 0, 0, 0, 0, 0, 0],
    [0, 0, 0, 0, 0, 0, 0, 0, 0, 0, 0, 0, 0, 1.0, 0, 0, 1.5, 0, 0, 0, 0, 0, 0, 0, 0, 0, 0, 0, 3.5, 0, 0, 0],
    [0, 0, 0, 0, 0, 0, 0, 0, 0, 0, 0, 0, 0, 0, 0, 0, 0, 0, 0, 0, 0.7, 0, 0, 0, 0, 0, 0, 0, 0, 0, 0, 0],
    [0, 0, 0, 0, 0, 0, 0, 0, 0, 0, 0, 0, 0, 0, 0, 0, 0, 0, 0, 0, 0, 0, 2.0, 2.5, 0, 0, 0, 0, 0, 1.0, 0, 0],
    [0, 0, 0, 0, 0, 0, 0, 0, 0, 0, 0, 0, 0, 0, 0, 0, 0, 0, 0, 0, 1.5, 0, 0, 0, 0.5, 0, 0, 0, 0, 0, 0, 0],
    [0, 0, 0, 0, 0, 0, 0, 0, 0, 0, 0, 0, 0, 0, 0, 4.6, 2.0, 0, 3.4, 0, 0, 0, 0, 0, 0, 0, 0, 5.4, 2.0, 0, 0, 7.0],
    [0, 0, 0, 0, 0, 0, 0, 0, 0, 0, 0, 0, 0, 0, 0, 0, 0, 0, 0, 3.4, 1.0, 0, 0, 0, 0, 0, 0.8, 0, 0, 0, 0, 0],
    [0, 0, 0, 0, 0, 0, 0, 0, 0, 0, 0, 0, 0, 3.5, 2.0, 0, 0, 0, 1.5, 0, 5.3, 1.0, 0, 0, 0, 0, 0, 0, 0, 0, 3.1, 1.0],
    [0, 0, 0, 0, 0, 0, 0, 0, 0, 0, 0, 0, 0, 0, 0, 0, 0, 0, 0, 0, 0, 1.2, 0, 0, 0, 0, 0, 0, 0, 0, 2.0, 0],
    [0, 0, 0, 0, 0, 0, 0, 0, 0, 0, 0, 0, 0, 0, 0, 1.0, 0, 0, 0, 0, 0, 0, 0, 0, 0, 0, 0, 0, 0, 1.5, 0, 0],
    [0, 0, 0, 0, 0, 0, 0, 0, 0, 0, 0, 0, 0, 0, 0, 0, 0.6, 0, 0, 0, 0, 0, 0, 0, 0, 0, 1.0, 0, 0, 0, 0, 0],
    [0, 0, 0, 0, 0, 0, 0, 0, 0, 0, 0, 0, 0, 0, 0, 0, 0, 0, 0, 0, 0, 1.5, 0, 1.0, 0, 0, 0, 0, 0, 0, 0, 0],
    [0, 0, 0, 0, 0, 0, 0, 0, 0, 0, 0, 0, 0, 0, 0, 0, 0, 0, 0, 0, 0, 0, 0.8, 0, 0, 0, 0, 0, 0, 0, 0, 0],
    [0, 0, 0, 0, 0, 0, 0, 0, 0, 0, 0, 0, 0, 0, 1.0, 0, 0, 0, 0, 0, 0, 0, 0, 0, 0, 0, 0, 0, 0, 2.0, 0, 0],
    [0, 0, 0, 0, 0, 0, 0, 0, 0, 0, 0, 0, 0, 0, 0, 0, 0, 0, 0, 0, 0, 0, 0, 0, 1.2, 0, 0, 0, 0, 0, 1.5, 0],
    [0, 0, 0, 0, 0, 0, 0, 0, 0, 0, 0, 0, 1.0, 3.5, 1.9, 3.5, 2.9, 0, 0, 0, 0, 0, 0, 0, 0, 0, 0, 0, 0, 0, 3.2, 1.5],
    [0, 0, 0, 0, 0, 0, 0, 0, 0, 0, 0, 0, 0, 0, 0, 0, 0, 0, 0, 0, 0, 0, 3.5, 2.0, 0, 0, 0, 0, 0, 0, 0, 0],
    [0, 0, 0, 0, 0, 0, 0, 0, 0, 0, 0, 0, 0, 0, 0, 0, 0, 0, 0, 0, 0, 0, 0, 0, 0, 2.5, 9.6, 7.9, 9.3, 9.1, 9.6, 9.0],
    [0, 0, 0, 0, 0, 0, 0, 0, 0, 0, 0, 0, 0, 0, 0, 0, 1.0, 0, 0, 0, 0, 0, 0, 0, 0, 0, 0, 0, 0, 0, 0, 0],
    [0, 0, 0, 0, 0, 0, 0, 0, 0, 0, 0, 0, 0, 0, 0, 0, 0, 0, 0, 0, 0.5, 0, 0, 0, 0, 0, 0, 0, 0, 0, 0, 0],
    [0, 0, 0, 0, 0, 0, 0, 0, 0, 0, 0, 0, 0, 0, 0, 0, 0, 0, 0, 0, 0, 0, 0, 1.5, 0, 0, 0, 0, 0, 0, 0, 0],
    [0, 0, 0, 0, 0, 0, 0, 0, 0, 0, 0, 0, 0, 0, 0, 1.5, 0, 0, 0, 0, 0, 2.0, 0, 0, 0, 1.0, 0, 0, 0, 0, 0, 0],
    [0, 0, 0, 0, 0, 0, 0, 0, 0, 0, 0, 0, 0, 0, 0, 0, 0, 1.0, 0, 0, 0, 0, 0, 0, 0, 0, 0, 0, 0, 0, 0, 0],
    [0, 0, 0, 0, 0, 0, 0, 0, 0, 0, 0, 0, 0, 0, 0, 0, 0, 0, 0, 0, 0, 0, 3.2, 0, 0.8, 0, 0, 0, 0, 0, 0, 0],
    [0, 0, 0, 0, 0, 0, 0, 0, 0, 0, 0, 0, 0, 0, 0, 3.1, 1.0, 0, 0, 0, 0, 0, 0, 0, 0, 0, 0, 0, 0, 0, 0, 0],
    [0, 0, 0, 0, 0, 0, 0, 0, 0, 0, 0, 0, 0, 0, 0, 0, 0, 0, 0, 0, 0, 0, 0, 0, 0, 0, 0.6, 0, 0, 0, 0, 0],
    [0, 0, 0, 0, 0, 0, 0, 0, 0, 0, 0, 0, 0, 0, 0, 2.0, 0, 0, 0, 0, 0, 0, 0, 0, 0, 1.0, 0, 0, 0, 0, 0, 0],
    [0, 0, 0, 0, 0, 0, 0, 0, 0, 0, 0, 0, 0, 0, 0, 0, 0, 0, 0, 0, 0, 0, 0, 0, 0, 0, 0, 0, 0, 2.5, 1.5, 0],
    [0, 0, 0, 0, 0, 0, 0, 0, 0, 0, 0, 0, 0, 0, 0, 0, 0, 0, 0, 0, 0, 0, 0, 0, 0.8, 0, 0, 0, 0, 0, 0, 0],
    [0, 0, 0, 0, 0, 0, 0, 0, 0, 0, 0, 0, 0, 0, 0, 0, 0, 0, 0, 0, 0, 1.0, 0, 0, 0, 0, 0, 0, 0, 0, 0, 0],
    [0, 0, 0, 0, 0, 0, 0, 0, 0, 0, 0, 0, 0, 0, 0, 0, 0, 0, 0, 0, 0, 0, 1.0, 0, 0, 0, 0, 0, 0, 0, 0, 0],
    [0, 0, 0, 0, 0, 0, 0, 0, 0, 0, 0, 0, 0, 0, 0, 0, 0, 0, 0, 0, 0, 0, 0, 0, 0, 0, 0, 2.0, 0, 0, 0, 0],
    [0, 0, 0, 0, 0, 0, 0, 0, 0, 0, 0, 0, 0, 0, 0, 0, 0, 0, 0, 0.5, 0, 0, 0, 0, 0, 0, 0, 0, 0, 0, 0, 0],
    [0, 0, 0, 0, 0, 0, 0, 0, 0, 0, 0, 0, 0, 0, 0, 0, 0, 0, 0, 0, 0, 0, 0, 1.5, 0, 0, 0, 0, 0, 1.0, 0, 0],
    [0, 0, 0, 0, 0, 0, 0, 0, 0, 0, 0, 0, 0, 0, 0, 0, 0, 0, 0, 0, 0, 0, 6.4, 3.0, 0, 0, 0, 0, 0, 0, 0, 0],
    [0, 0, 0, 0, 0, 0, 0, 0, 0, 0, 0, 0, 0, 0, 0, 0, 0, 0, 5.5, 1.5, 0, 0, 0, 0, 0, 0, 0, 0, 0, 0, 0, 0],
    [0, 0, 0, 0, 0, 0, 0, 0, 0, 0, 0, 0, 0, 0, 0, 0, 0, 1.0, 0, 0, 0, 0, 0, 0, 0, 0.8, 0, 0, 0, 0, 0, 0],
    [0, 0, 0, 0, 0, 0, 0, 0, 0, 0, 0, 0, 0, 0, 0, 0, 0, 0, 0, 0, 0, 0, 0, 0, 0, 0, 0, 0, 0, 2.0, 0, 0],
    [0, 0, 0, 0, 0, 0, 0, 0, 0, 0, 0, 0, 0, 0, 0, 0, 0, 0, 0, 0, 0, 0, 0, 0, 0, 0, 0, 0, 1.0, 4.0, 9.6, 2.6],
    [0, 0, 0, 0, 0, 0, 0, 0, 0, 0, 0, 0, 0, 0, 0, 0, 0, 0, 0, 0, 0, 0, 0, 0, 0, 0, 1.0, 0, 0, 0, 0, 0],
    [0, 0, 0, 0, 0, 0, 0, 0, 0, 0, 0, 0, 0, 0, 1.0, 0, 0, 0, 0, 0, 0, 0, 0, 0, 0, 0, 0, 0, 0, 1.5, 0, 0],
    [0, 0, 0, 0, 0, 0, 0, 0, 0, 0, 0, 0, 0, 0, 0, 0, 0.8, 0, 0, 0, 0, 0, 0, 0, 0, 0, 0, 0, 0.5, 0, 0, 0],
]

# ---------------- layout helpers (pixel geometry) ----------------
W, H = 740, 700
PL, PR, PT, PB = 50, 691, 0, 600          # plot area in pixels
Y_PER_PX = 1 / 7.0                          # 5 degrees = 35 px
Y_TOP = 30 + 22 * Y_PER_PX
Y_BOT = -45 - (PB - 547) * Y_PER_PX
OFFSET_RIGHT = 45                           # right axis value = left value + 45

MONO = "DejaVu Sans Mono"
SANS = "Liberation Sans"


def fx(px):
    return (px - PL) / (PR - PL)


def fy(py):
    return (PB - py) / (PB - PT)


fig = go.Figure()

# perturbations
for i in range(len(MEMBER_COLORS)):
    c = MEMBER_COLORS[i]
    for series, axis in ((T850_MEMBERS[i], "y"), (T500_MEMBERS[i], "y"), (PRECIP_MEMBERS[i], "y2")):
        fig.add_trace(go.Scatter(
            x=PERT_HOURS, y=series, yaxis=axis, mode="lines+markers",
            line=dict(color=c, width=1), marker=dict(color=c, size=3, symbol="cross-thin",
                                                     line=dict(color=c, width=1)),
            hoverinfo="skip", showlegend=False))

# control, CEP, mean
for xs, ys, axis, col, w in (
        (HOURS_6H, T850_CTRL, "y", "#0000ff", 3.5),
        (HOURS_6H, T500_CTRL, "y", "#0000ff", 3.5),
        (HOURS_CEP, T850_CEP, "y", "#000000", 3.5),
        (HOURS_CEP, T500_CEP, "y", "#000000", 3.5),
        (HOURS_6H, T850_MEAN, "y", "#ff0000", 5),
        (HOURS_6H, T500_MEAN, "y", "#ff0000", 5),
        (HOURS_6H, PRECIP_CTRL, "y2", "#0000ff", 3),
        (HOURS_CEP, PRECIP_CEP, "y2", "#000000", 3),
        (HOURS_PRECIP_MEAN, PRECIP_MEAN, "y2", "#ff0000", 5)):
    fig.add_trace(go.Scatter(x=xs, y=ys, yaxis=axis, mode="lines",
                             line=dict(color=col, width=w), hoverinfo="skip", showlegend=False))

shapes = []
# heavier horizontal grid lines every 10 degrees
for v in LEFT_TICKS:
    if v % 10 == 0 and v != 0:
        shapes.append(dict(type="line", xref="paper", yref="y", x0=0, x1=1, y0=v, y1=v,
                           line=dict(color="#c0c0c0", width=2), layer="below"))
shapes.append(dict(type="line", xref="paper", yref="y", x0=0, x1=1, y0=0, y1=0,
                   line=dict(color="#b0b0b0", width=2), layer="below"))
shapes.append(dict(type="line", xref="paper", yref="y", x0=0, x1=1, y0=0.3, y1=0.3,
                   line=dict(color="#808080", width=1), layer="below"))

# legend lines
shapes.append(dict(type="line", xref="paper", yref="paper", x0=fx(36), x1=fx(66), y0=fy(637), y1=fy(637),
                   line=dict(color="#ff0000", width=5)))
shapes.append(dict(type="line", xref="paper", yref="paper", x0=fx(225), x1=fx(256), y0=fy(637), y1=fy(637),
                   line=dict(color="#0000ff", width=4)))
shapes.append(dict(type="line", xref="paper", yref="paper", x0=fx(225), x1=fx(256), y0=fy(647), y1=fy(647),
                   line=dict(color="#000000", width=4)))

annotations = []
# axis tick labels (left ones are left-aligned, right ones right-aligned in the original)
for v in LEFT_TICKS:
    annotations.append(dict(xref="paper", yref="y", x=fx(19), y=v, text=str(v), showarrow=False,
                            xanchor="left", yanchor="middle",
                            font=dict(family=SANS, size=11, color="black")))
for v in RIGHT_TICKS:
    annotations.append(dict(xref="paper", yref="y2", x=fx(717), y=v, text=str(v), showarrow=False,
                            xanchor="right", yanchor="middle",
                            font=dict(family=SANS, size=11, color="black")))

# member colour table
for i in range(len(MEMBER_COLORS)):
    col = i % 25
    row = i // 25
    x0 = 429 + 11 * col
    y0 = 645 + 6.5 * row
    shapes.append(dict(type="rect", xref="paper", yref="paper", x0=fx(x0), x1=fx(x0 + 10),
                       y0=fy(y0), y1=fy(y0 + 6.5), fillcolor=MEMBER_COLORS[i], line=dict(width=0)))
    annotations.append(dict(xref="paper", yref="paper", x=fx(x0 + 5), y=fy(639 if row == 0 else 663.5),
                            text=MEMBER_LABELS[i], showarrow=False, xanchor="center", yanchor="middle",
                            font=dict(family=MONO, size=7.5, color="black")))

# bottom info box
shapes.append(dict(type="rect", xref="paper", yref="paper", x0=fx(20), x1=fx(440), y0=fy(667), y1=fy(699),
                   line=dict(color="black", width=1.5), fillcolor="rgba(0,0,0,0)"))


def label(px, py, text, size=10, bold=False, anchor="left", family=MONO):
    annotations.append(dict(xref="paper", yref="paper", x=fx(px), y=fy(py),
                            text=("<b>%s</b>" % text) if bold else text, showarrow=False,
                            xanchor=anchor, yanchor="middle",
                            font=dict(family=family, size=size, color="black")))


label(60, 229, "Temp. 850hPa")
label(60, 382, "Temp. 500hPa")
label(60, 537, "Précipitations")
label(31, 607, "(°C)", anchor="center")
label(721, 606, "(mm)", anchor="center")
label(75, 637, "Moyenne des scénarios")
label(265, 637, "Run de contrôle")
label(265, 647, "Run CEP/ECMWF")
label(370, 652, "50 Perts.")
label(29, 677, "Diagramme ensembles ECMWF/CEP 0.4° sur 360h : 48.6N 7.7E", size=11.5, bold=True)
label(29, 691, "Températures 850hPa et 500hPa (°C) , précipitations (mm)")
label(450, 674, "Ensemble ECMWF/CEP du 06/03/2022 - 00Z")
label(450, 691, "Copyright 2022 Meteociel.fr - ECMWF", size=11.5, bold=True)

fig.update_layout(
    width=W, height=H, autosize=False,
    margin=dict(l=PL, r=W - PR, t=PT, b=H - PB, pad=0),
    paper_bgcolor="white", plot_bgcolor="white",
    showlegend=False, hovermode=False,
    font=dict(family=SANS, size=11, color="black"),
    xaxis=dict(range=[0, 360], tickmode="array", tickvals=DAY_HOURS, ticktext=DATE_LABELS,
               tickangle=-90, showgrid=True, gridcolor="#c0c0c0", gridwidth=1.5,
               showline=True, linecolor="black", linewidth=1, ticks="", zeroline=False,
               tickfont=dict(family=MONO, size=9.5, color="black"),
               ticklabelstandoff=2, ticklabelshift=5),
    yaxis=dict(range=[Y_BOT, Y_TOP], tickmode="array", tickvals=LEFT_TICKS, showticklabels=False,
               showgrid=True, gridcolor="#c0c0c0", gridwidth=1, zeroline=False, ticks="",
               showline=False),
    yaxis2=dict(range=[Y_BOT + OFFSET_RIGHT, Y_TOP + OFFSET_RIGHT], tickmode="array",
                tickvals=RIGHT_TICKS, overlaying="y", side="right", showgrid=False,
                zeroline=False, ticks="", showline=False, showticklabels=False),
    shapes=shapes, annotations=annotations,
)

fig.write_html("out.html", include_plotlyjs=True, config={"displayModeBar": False},
               post_script="document.body.style.margin='0px';document.body.style.padding='0px';"
                           "document.body.style.overflow='hidden';")
